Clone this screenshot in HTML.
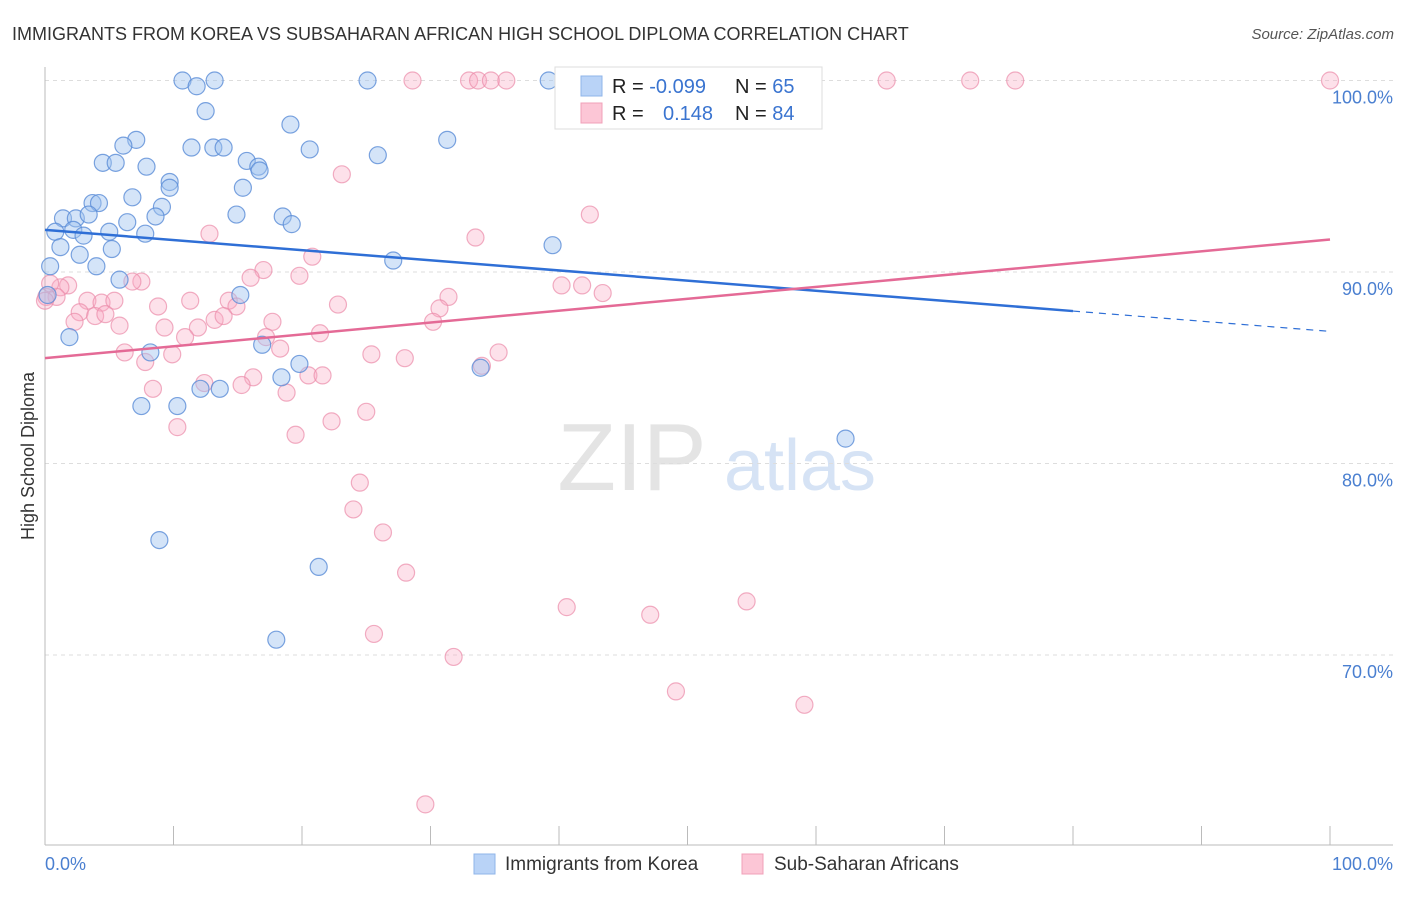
<!DOCTYPE html>
<html><head><meta charset="utf-8"><style>
body{margin:0;background:#fff;font-family:"Liberation Sans",sans-serif}
svg text{font-family:"Liberation Sans",sans-serif}
</style></head><body>
<svg id="c" width="1406" height="892">
<text x="12" y="40" font-size="18" fill="#333">IMMIGRANTS FROM KOREA VS SUBSAHARAN AFRICAN HIGH SCHOOL DIPLOMA CORRELATION CHART</text>
<text x="1394" y="39" font-size="15" fill="#555" text-anchor="end" font-style="italic">Source: ZipAtlas.com</text>
<text x="34" y="456" font-size="18" fill="#333" text-anchor="middle" transform="rotate(-90 34 456)">High School Diploma</text>
<g><text x="632" y="490" font-size="96" fill="#e4e4e4" text-anchor="middle" font-family="Liberation Serif">ZIP</text><text x="800" y="490" font-size="72" fill="#d6e3f5" text-anchor="middle">atlas</text></g>
<g id="grid"></g><g id="marks"></g><g id="lines"></g>
<g>
<rect x="555" y="67" width="267" height="62" fill="#fff" stroke="#ddd"/>
<rect x="581" y="76" width="21" height="20" fill="#b9d3f7" stroke="#8fb4ea"/>
<rect x="581" y="103" width="21" height="20" fill="#fcc6d6" stroke="#f0a0b8"/>
<text x="612" y="93" font-size="20" fill="#222">R = <tspan fill="#3a74d0">-0.099</tspan></text>
<text x="735" y="93" font-size="20" fill="#222">N = <tspan fill="#3a74d0">65</tspan></text>
<text x="612" y="120" font-size="20" fill="#222">R = <tspan fill="#3a74d0" x="663">0.148</tspan></text>
<text x="735" y="120" font-size="20" fill="#222">N = <tspan fill="#3a74d0">84</tspan></text>
</g>
<g>
<rect x="474" y="854" width="21" height="20" fill="#b9d3f7" stroke="#8fb4ea"/>
<text x="505" y="870" font-size="19" fill="#333">Immigrants from Korea</text>
<rect x="742" y="854" width="21" height="20" fill="#fcc6d6" stroke="#f0a0b8"/>
<text x="774" y="870" font-size="19" fill="#333">Sub-Saharan Africans</text>
</g>
</svg>
<script>
const yTicks=[100,90,80,70];
const yTickLabels=["100.0%","90.0%","80.0%","70.0%"];
const xTickLabels=["0.0%","100.0%"];
const koreaX=[10.7,13.2,11.8,25.1,39.2,12.5,19.1,31.3,7.1,6.1,11.4,13.1,13.9,20.6,25.9,4.5,5.5,7.9,15.7,16.6,16.7,9.7,9.7,15.4,6.8,3.7,4.2,9.1,1.4,2.4,3.4,8.6,6.4,14.9,18.5,19.2,0.8,2.2,3.0,5.0,7.8,1.2,5.2,39.5,2.7,27.1,4.0,0.4,5.8,15.2,0.2,1.9,8.2,16.9,19.8,18.4,12.1,13.6,33.9,7.5,10.3,62.3,8.9,21.3,18.0];
const koreaY=[100,100,99.7,100,100,98.4,97.7,96.9,96.9,96.6,96.5,96.5,96.5,96.4,96.1,95.7,95.7,95.5,95.8,95.5,95.3,94.7,94.4,94.4,93.9,93.6,93.6,93.4,92.8,92.8,93.0,92.9,92.6,93.0,92.9,92.5,92.1,92.2,91.9,92.1,92.0,91.3,91.2,91.4,90.9,90.6,90.3,90.3,89.6,88.8,88.8,86.6,85.8,86.2,85.2,84.5,83.9,83.9,85.0,83.0,83.0,81.3,76.0,74.6,70.8];
const africaX=[28.6,33.0,33.7,34.7,35.9,46.1,65.5,72.0,75.5,100,23.1,42.4,12.8,33.5,20.8,17.0,16.0,19.8,7.5,6.8,1.8,1.2,40.2,41.8,43.4,31.4,0.9,3.3,4.4,5.4,11.3,8.8,14.3,14.9,22.8,30.7,2.7,3.9,4.7,2.3,13.2,13.9,17.7,30.2,5.8,9.3,11.9,10.9,21.4,17.2,18.3,6.2,9.9,7.8,25.4,28.0,35.3,34.0,16.2,20.5,21.6,12.4,15.3,8.4,18.8,25.0,22.3,10.3,19.5,24.5,24.0,26.3,28.1,40.6,47.1,54.6,25.6,31.8,49.1,59.1,29.6,0.1,0.4,0];
const africaY=[100,100,100,100,100,100,100,100,100,100,95.1,93.0,92.0,91.8,90.8,90.1,89.7,89.8,89.5,89.5,89.3,89.2,89.3,89.3,88.9,88.7,88.7,88.5,88.4,88.5,88.5,88.2,88.5,88.2,88.3,88.1,87.9,87.7,87.8,87.4,87.5,87.7,87.4,87.4,87.2,87.1,87.1,86.6,86.8,86.6,86.0,85.8,85.7,85.3,85.7,85.5,85.8,85.1,84.5,84.6,84.6,84.2,84.1,83.9,83.7,82.7,82.2,81.9,81.5,79.0,77.6,76.4,74.3,72.5,72.1,72.8,71.1,69.9,68.1,67.4,62.2,88.7,89.4,88.5];
const koreaTrend=[92.2,86.9];
const africaTrend=[85.5,91.7];
const X0=45,X1=1330,Y100=80.5,PXPCT=19.15;
const sx=v=>X0+(X1-X0)*v/100;
const sy=v=>Y100+(100-v)*PXPCT;
const NS="http://www.w3.org/2000/svg";
function mk(t,a,p){const e=document.createElementNS(NS,t);for(const k in a)e.setAttribute(k,a[k]);p.appendChild(e);return e;}
const g=document.getElementById('grid');
yTicks.forEach((t,i)=>{
 const l=mk('line',{x1:45,x2:1393,y1:sy(t),y2:sy(t),stroke:'#ddd','stroke-dasharray':'4 4'},g);
 
 
 const tx=mk('text',{x:1393,y:sy(t)+23,'font-size':18,fill:'#4a7fd0','text-anchor':'end'},g);
 tx.textContent=yTickLabels[i];
 
 
});
const ax=mk('line',{x1:45,x2:45,y1:67,y2:845,stroke:'#bbb'},g);


const bx=mk('line',{x1:45,x2:1393,y1:845,y2:845,stroke:'#bbb'},g);


for(let i=0;i<=10;i++){
 const t=mk('line',{x1:sx(i*10),x2:sx(i*10),y1:826,y2:845,stroke:'#bbb'},g);
 
 
}
[[0,'start',45],[100,'end',1393]].forEach((d,i)=>{
 const tx=mk('text',{x:d[2],y:870,'font-size':18,fill:'#4a7fd0','text-anchor':d[1]},g);
 tx.textContent=xTickLabels[i];
 
 
});
const m=document.getElementById('marks');
function pts(xs,ys,fill,stroke,name){xs.forEach((x,i)=>{
 const c=mk('circle',{cx:sx(x),cy:sy(ys[i]),r:8.5,fill:fill,stroke:stroke,'stroke-width':1.2},m);
 
 
});}
pts(africaX,africaY,'rgba(248,170,195,0.35)','rgba(235,140,170,0.7)','africa-point');
pts(koreaX,koreaY,'rgba(160,195,240,0.45)','rgba(90,140,215,0.8)','korea-point');
const L=document.getElementById('lines');
const xe=80;
let a=mk('line',{x1:sx(0),y1:sy(koreaTrend[0]),x2:sx(xe),y2:sy(koreaTrend[0]+(koreaTrend[1]-koreaTrend[0])*xe/100),stroke:'#2f6fd6','stroke-width':2.5},L);


a=mk('line',{x1:sx(xe),y1:sy(koreaTrend[0]+(koreaTrend[1]-koreaTrend[0])*xe/100),x2:sx(100),y2:sy(koreaTrend[1]),stroke:'#2f6fd6','stroke-width':1.2,'stroke-dasharray':'7 6'},L);


a=mk('line',{x1:sx(0),y1:sy(africaTrend[0]),x2:sx(100),y2:sy(africaTrend[1]),stroke:'#e46a96','stroke-width':2.5},L);


</script>
</body></html>
